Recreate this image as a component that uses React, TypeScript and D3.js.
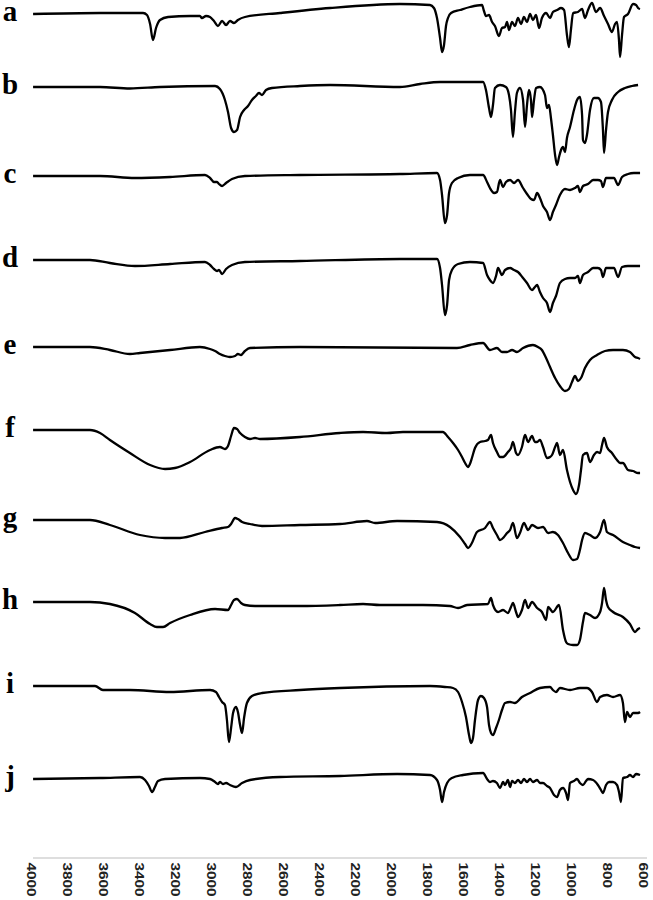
import React from "react";
import * as d3 from "d3";

type Pt = [number, number];

const sampleLabels = ["a", "b", "c", "d", "e", "f", "g", "h", "i", "j"];
const tickValues = [4000, 3800, 3600, 3400, 3200, 3000, 2800, 2600, 2400, 2200, 2000, 1800, 1600, 1400, 1200, 1000, 800, 600];
// vertical stacking offset of each spectrum (same units as the relative transmittance)
const stackOffsets = [744, 671, 582, 498, 411, 328, 238, 156, 72, -21];

// [wavenumber cm-1, relative transmittance]
const specA: Pt[] = [
  [3994, 100], [3622, 101], [3383, 101], [3361, 99], [3344, 90], [3328, 74], [3311, 86], [3289, 94], [3244, 97],
  [3122, 98], [3067, 98], [3056, 96], [3033, 98], [3011, 97], [2989, 93], [2967, 88], [2944, 93], [2922, 89],
  [2900, 93], [2878, 91], [2856, 94], [2817, 97], [2622, 101], [2344, 106], [1956, 110], [1789, 109], [1767, 106],
  [1750, 96], [1733, 76], [1722, 62], [1711, 69], [1700, 88], [1689, 96], [1672, 101], [1622, 104], [1567, 107],
  [1500, 109], [1489, 103], [1478, 98], [1461, 99], [1444, 92], [1428, 88], [1406, 78], [1389, 86], [1372, 87],
  [1361, 92], [1350, 84], [1333, 92], [1317, 88], [1300, 96], [1283, 90], [1267, 97], [1250, 92], [1233, 100],
  [1217, 94], [1200, 99], [1183, 86], [1167, 96], [1144, 101], [1122, 96], [1106, 102], [1083, 104], [1061, 106],
  [1044, 104], [1028, 79], [1017, 67], [1006, 84], [994, 101], [967, 102], [944, 105], [928, 96], [911, 104],
  [889, 111], [867, 102], [844, 106], [822, 98], [800, 90], [778, 82], [761, 90], [750, 92], [739, 74], [733, 57],
  [722, 79], [711, 97], [689, 100], [661, 110], [644, 109], [633, 106], [622, 105],
];
const specB: Pt[] = [
  [3994, 100], [3622, 100], [3456, 98.5], [3289, 100], [2983, 101], [2956, 98], [2928, 87], [2911, 75], [2894, 59],
  [2878, 55], [2861, 57], [2844, 70], [2822, 77], [2800, 81], [2778, 87], [2756, 91], [2739, 94], [2722, 92],
  [2700, 97], [2667, 99], [2511, 101], [2344, 102], [1956, 100], [1844, 103], [1733, 105], [1494, 105], [1478, 97],
  [1461, 79], [1450, 70], [1439, 82], [1428, 99], [1400, 102], [1367, 100], [1350, 92], [1339, 77], [1328, 50],
  [1317, 75], [1306, 94], [1289, 99], [1272, 87], [1261, 60], [1250, 82], [1239, 97], [1228, 87], [1222, 70],
  [1211, 87], [1200, 99], [1178, 100], [1150, 92], [1139, 79], [1128, 82], [1117, 69], [1106, 52], [1094, 32],
  [1083, 22], [1072, 30], [1061, 37], [1050, 40], [1039, 35], [1028, 49], [1011, 60], [989, 77], [972, 87],
  [956, 90], [944, 72], [939, 47], [928, 44], [917, 52], [900, 77], [878, 89], [856, 89], [839, 85], [828, 57],
  [822, 34], [811, 57], [800, 75], [778, 87], [744, 95], [706, 99], [667, 101], [633, 102],
];
const specC: Pt[] = [
  [3994, 100], [3622, 100], [3428, 98], [3233, 99], [3039, 101], [3011, 98], [2989, 94], [2972, 94], [2961, 92],
  [2944, 90], [2922, 93], [2889, 97], [2817, 100], [2511, 101], [1956, 102], [1750, 103], [1733, 96], [1722, 81],
  [1706, 53], [1694, 61], [1683, 83], [1667, 93], [1633, 98], [1567, 101], [1494, 101], [1472, 94], [1456, 88],
  [1433, 83], [1417, 84], [1400, 96], [1383, 89], [1367, 94], [1344, 96], [1322, 93], [1300, 96], [1272, 88],
  [1250, 82], [1228, 77], [1211, 76], [1194, 83], [1178, 78], [1161, 70], [1139, 64], [1122, 56], [1106, 64],
  [1089, 71], [1067, 81], [1039, 87], [1011, 86], [983, 88], [967, 90], [956, 84], [939, 90], [911, 92], [883, 96],
  [856, 96], [839, 95], [828, 89], [811, 98], [767, 98], [744, 91], [722, 99], [689, 102], [656, 103], [622, 103],
];
const specD: Pt[] = [
  [3994, 100], [3678, 100], [3567, 97], [3428, 94], [3233, 96], [3039, 98], [3011, 95], [2989, 91], [2972, 89],
  [2961, 90], [2944, 86], [2922, 91], [2889, 95], [2817, 98], [2511, 99], [1956, 101], [1750, 101], [1733, 92],
  [1722, 75], [1706, 45], [1694, 55], [1683, 80], [1667, 90], [1633, 96], [1567, 98], [1494, 97], [1472, 85],
  [1456, 80], [1439, 77], [1422, 84], [1411, 92], [1389, 85], [1372, 90], [1344, 92], [1322, 90], [1300, 88],
  [1272, 82], [1250, 77], [1222, 70], [1206, 73], [1194, 75], [1178, 68], [1161, 62], [1139, 57], [1122, 48],
  [1106, 57], [1089, 64], [1067, 77], [1039, 81], [1011, 82], [983, 82], [967, 84], [956, 77], [939, 85], [911, 88],
  [883, 92], [856, 92], [839, 90], [828, 83], [811, 92], [767, 92], [744, 83], [722, 93], [689, 94], [656, 94], [622, 94],
];
const specE: Pt[] = [
  [3994, 100], [3678, 100], [3567, 97], [3456, 93], [3400, 94], [3233, 97], [3067, 100], [3011, 98], [2983, 96],
  [2956, 93], [2928, 91], [2900, 90], [2872, 91], [2856, 93], [2839, 92], [2817, 96], [2789, 99], [2511, 100],
  [1639, 99], [1567, 102], [1494, 104], [1456, 97], [1417, 99], [1389, 95], [1361, 95], [1333, 97], [1306, 95],
  [1272, 99], [1217, 102], [1189, 100], [1167, 97], [1144, 89], [1122, 80], [1094, 69], [1067, 61], [1039, 56],
  [1017, 58], [1000, 65], [983, 71], [967, 66], [950, 69], [928, 79], [900, 87], [861, 92], [817, 96], [772, 97],
  [717, 97], [678, 95], [650, 90], [633, 89], [622, 88],
];
const specF: Pt[] = [
  [3994, 100], [3678, 100], [3622, 97], [3567, 90], [3456, 77], [3344, 65], [3261, 61], [3206, 62], [3122, 68],
  [3011, 80], [2956, 83], [2928, 81], [2911, 84], [2894, 94], [2878, 102], [2861, 101], [2844, 97], [2817, 93],
  [2789, 91], [2761, 92], [2733, 91], [2511, 93], [2289, 97], [2161, 98], [2028, 97], [1939, 98], [1717, 98],
  [1689, 93], [1661, 87], [1633, 80], [1611, 73], [1594, 67], [1578, 63], [1567, 66], [1556, 72], [1539, 82],
  [1511, 88], [1483, 89], [1467, 90], [1450, 95], [1439, 87], [1417, 78], [1400, 73], [1383, 73], [1356, 78],
  [1339, 82], [1328, 88], [1311, 77], [1300, 75], [1278, 83], [1261, 95], [1244, 88], [1222, 94], [1206, 88],
  [1194, 88], [1178, 90], [1161, 83], [1139, 72], [1122, 73], [1111, 75], [1094, 83], [1083, 87], [1067, 75],
  [1050, 80], [1028, 60], [1011, 48], [994, 40], [978, 36], [961, 45], [950, 60], [939, 75], [917, 77], [900, 68],
  [878, 75], [861, 78], [844, 77], [833, 85], [822, 92], [806, 83], [778, 77], [750, 70], [733, 67], [717, 67],
  [689, 60], [661, 59], [633, 57], [622, 57],
];
const specG: Pt[] = [
  [3994, 100], [3678, 100], [3567, 95], [3400, 85], [3261, 82], [3178, 82], [3039, 88], [2944, 92], [2911, 93],
  [2894, 96], [2872, 102], [2856, 101], [2833, 98], [2789, 96], [2722, 94], [2511, 95], [2289, 96], [2139, 99],
  [2094, 97], [1972, 99], [1750, 98], [1678, 93], [1622, 83], [1594, 76], [1578, 72], [1556, 77], [1528, 88],
  [1483, 92], [1456, 98], [1439, 92], [1417, 85], [1400, 80], [1378, 83], [1361, 87], [1344, 90], [1328, 97],
  [1306, 82], [1289, 87], [1267, 97], [1244, 90], [1222, 95], [1189, 92], [1161, 93], [1133, 87], [1106, 88],
  [1078, 85], [1050, 77], [1022, 67], [994, 60], [972, 61], [956, 70], [944, 80], [928, 87], [900, 85], [872, 82],
  [844, 88], [822, 100], [806, 88], [772, 85], [717, 78], [678, 75], [650, 73], [622, 72],
];
const specH: Pt[] = [
  [3994, 100], [3678, 100], [3567, 98], [3428, 89], [3344, 78], [3306, 75], [3272, 75], [3233, 79], [3122, 87],
  [2983, 93], [2911, 92], [2894, 97], [2878, 102], [2861, 103], [2839, 99], [2817, 97], [2761, 96], [2511, 96],
  [2289, 97], [2161, 98], [2067, 97], [1828, 97], [1678, 96], [1633, 94], [1583, 97], [1467, 98], [1450, 104],
  [1439, 97], [1411, 90], [1383, 92], [1356, 89], [1339, 95], [1328, 99], [1311, 90], [1300, 85], [1278, 92],
  [1261, 102], [1244, 94], [1222, 100], [1194, 94], [1167, 90], [1144, 82], [1133, 95], [1106, 90], [1072, 97],
  [1050, 72], [1033, 60], [1022, 58], [994, 57], [972, 57], [956, 62], [939, 80], [928, 89], [900, 87], [872, 84],
  [844, 90], [833, 99], [822, 114], [811, 102], [800, 95], [772, 90], [717, 85], [678, 78], [650, 70], [633, 73], [622, 74],
];
const specI: Pt[] = [
  [3994, 100], [3650, 100], [3606, 96], [3456, 96], [3233, 94], [3011, 96], [2978, 94], [2961, 89], [2944, 84],
  [2928, 81], [2917, 66], [2906, 44], [2894, 58], [2883, 73], [2867, 79], [2856, 74], [2844, 61], [2833, 53],
  [2822, 68], [2806, 83], [2778, 90], [2722, 93], [2511, 96], [2289, 98], [1789, 100], [1706, 99], [1661, 98],
  [1633, 94], [1611, 84], [1589, 69], [1572, 51], [1561, 43], [1550, 48], [1539, 66], [1522, 86], [1506, 90],
  [1489, 88], [1472, 79], [1461, 61], [1450, 53], [1439, 51], [1422, 58], [1406, 66], [1389, 76], [1372, 83],
  [1344, 84], [1317, 83], [1278, 89], [1233, 93], [1178, 98], [1122, 99], [1106, 96], [1089, 94], [1067, 98],
  [1011, 96], [956, 98], [917, 98], [889, 94], [861, 84], [844, 89], [806, 91], [772, 89], [733, 91], [717, 83],
  [706, 64], [694, 74], [678, 69], [661, 73], [633, 73], [622, 74],
];
const specJ: Pt[] = [
  [3994, 100], [3622, 101], [3400, 102], [3372, 99], [3350, 93], [3333, 87], [3317, 92], [3300, 98], [3261, 100],
  [3067, 101], [3011, 100], [2983, 97], [2967, 95], [2956, 97], [2939, 95], [2922, 96], [2900, 94], [2867, 92],
  [2833, 96], [2789, 99], [2622, 102], [2289, 103], [1972, 105], [1789, 104], [1750, 99], [1733, 89], [1722, 77],
  [1711, 87], [1694, 96], [1667, 101], [1606, 104], [1494, 106], [1472, 100], [1456, 97], [1439, 98], [1417, 96],
  [1400, 91], [1383, 97], [1372, 94], [1356, 99], [1344, 92], [1333, 98], [1317, 96], [1300, 99], [1283, 96],
  [1267, 100], [1250, 97], [1233, 100], [1217, 97], [1194, 99], [1178, 96], [1161, 96], [1139, 93], [1122, 91],
  [1100, 84], [1083, 82], [1067, 89], [1050, 91], [1033, 86], [1022, 79], [1011, 96], [989, 98], [972, 100],
  [956, 96], [939, 94], [922, 98], [911, 100], [883, 99], [856, 94], [839, 89], [828, 86], [811, 94], [794, 97],
  [772, 97], [750, 94], [739, 87], [728, 77], [717, 101], [694, 102], [678, 104], [661, 102], [644, 105], [622, 104],
];

const spectra: Pt[][] = [specA, specB, specC, specD, specE, specF, specG, specH, specI, specJ];

const WIDTH = 653;
const HEIGHT = 900;

export default function App() {
  const x = d3.scaleLinear().domain([4000, 600]).range([32, 644]);
  const y = d3.scaleLinear().domain([0, 858]).range([858, 0]);
  const axisY = y(0);

  return (
    <svg
      width={WIDTH}
      height={HEIGHT}
      style={{ position: "absolute", left: 0, top: 0, background: "#fff" }}
    >
      <rect x={0} y={0} width={WIDTH} height={HEIGHT} fill="#fff" />
      {spectra.map((spec, i) => {
        const off = stackOffsets[i];
        const line = d3
          .line<Pt>()
          .x((d) => x(d[0]))
          .y((d) => y(d[1] + off))
          .curve(d3.curveMonotoneX);
        return (
          <g key={sampleLabels[i]}>
            <path d={line(spec) || ""} fill="none" stroke="#000" strokeWidth={2.3} strokeLinejoin="round" />
            <text
              x={10}
              y={y(100 + off) + 6.5}
              textAnchor="middle"
              fontFamily="'Liberation Serif', 'Times New Roman', serif"
              fontWeight="bold"
              fontSize={29}
              fill="#000"
            >
              {sampleLabels[i]}
            </text>
          </g>
        );
      })}
      <line x1={x(4000) + 1} x2={x(600) + 3} y1={axisY} y2={axisY} stroke="#bdbdbd" strokeWidth={1} />
      {tickValues.map((t) => (
        <text
          key={t}
          transform={`translate(${x(t)},${axisY + 4.5}) rotate(90) scale(1.18,1)`}
          textAnchor="start"
          dominantBaseline="central"
          fontFamily="'Liberation Sans', Arial, sans-serif"
          fontWeight="bold"
          fontSize={13}
          fill="#222"
        >
          {t}
        </text>
      ))}
    </svg>
  );
}
